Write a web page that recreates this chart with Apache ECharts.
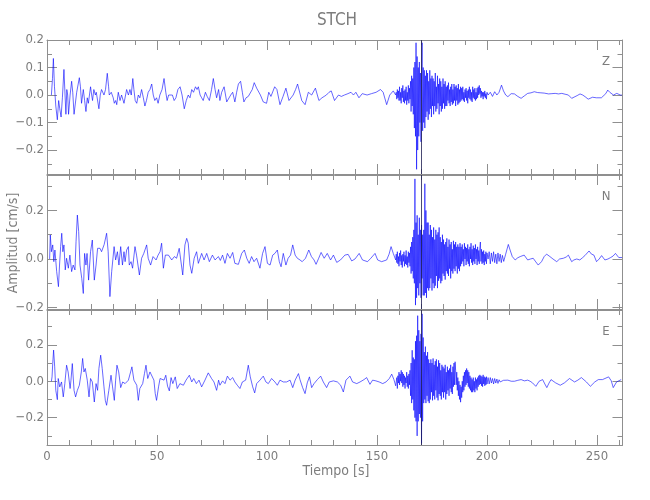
<!DOCTYPE html>
<html><head><meta charset="utf-8">
<script src="https://cdn.jsdelivr.net/npm/echarts@6/dist/echarts.min.js"></script>
<style>html,body{margin:0;padding:0;background:#fff}#c{width:650px;height:500px}</style>
</head><body><div id="c"></div>
<script>
// ---------------- data (cm/s vs s) ----------------
const zQuiet = [[2.0,0.0],[2.5,0.06],[2.9,0.133],[3.4,0.03],[4.0,-0.04],[4.7,-0.09],[5.3,-0.02],[5.8,-0.05],[6.4,-0.08],[7.0,-0.01],[7.7,0.093],[8.2,0.0],[8.6,-0.07],[9.0,0.02],[9.4,0.0],[9.8,-0.07],[10.5,0.0],[11.2,0.05],[11.7,0.01],[12.3,-0.07],[13.5,0.01],[14.7,0.063],[15.2,0.03],[15.7,-0.03],[16.5,0.02],[17.1,-0.02],[17.7,-0.06],[18.3,-0.01],[18.8,-0.03],[19.8,0.03],[20.3,0.0],[20.7,-0.02],[21.3,0.02],[22.0,0.0],[22.4,0.01],[23.6,-0.05],[24.2,0.0],[24.8,0.02],[25.9,0.0],[26.6,0.02],[27.4,0.079],[28.0,0.03],[28.3,0.0],[29.2,0.01],[30.1,-0.01],[30.6,-0.03],[31.2,-0.02],[31.7,-0.035],[32.4,0.01],[33.2,-0.02],[33.9,0.0],[35.0,-0.03],[36.2,0.02],[37.0,0.0],[37.7,0.02],[38.3,0.0],[39.0,0.06],[39.5,0.02],[40.1,-0.02],[40.8,-0.03],[41.5,0.0],[42.2,-0.01],[43.0,0.02],[43.8,-0.01],[44.5,-0.04],[45.2,-0.02],[46.0,0.01],[46.8,0.02],[47.6,0.04],[48.3,0.0],[49.0,-0.02],[49.8,-0.01],[50.5,-0.03],[51.3,0.0],[52.3,0.02],[53.2,0.06],[54.0,0.01],[54.6,-0.02],[55.3,0.0],[56.2,-0.005],[57.0,0.0],[57.8,-0.02],[58.6,-0.01],[59.5,0.02],[60.5,0.03],[61.4,0.0],[62.4,-0.05],[63.3,-0.02],[64.2,0.0],[65.0,-0.01],[65.8,0.02],[66.6,0.01],[67.5,0.03],[68.2,0.02],[68.8,0.03],[69.6,0.0],[70.3,-0.01],[71.0,-0.02],[72.0,0.01],[72.8,-0.005],[73.8,-0.02],[74.8,0.02],[75.6,0.06],[76.4,0.02],[77.1,-0.01],[78.0,0.02],[78.6,-0.02],[79.4,0.01],[80.5,0.03],[81.7,-0.025],[82.6,-0.02],[83.5,0.0],[84.4,0.01],[85.4,-0.025],[86.2,0.01],[87.0,0.04],[88.0,0.05],[88.8,0.01],[89.5,-0.025],[90.5,-0.01],[91.5,-0.005],[92.3,-0.01],[93.3,0.02],[94.2,0.045],[95.3,0.025],[96.0,0.03],[97.0,0.0],[98.3,-0.025],[99.8,-0.03],[100.8,0.01],[101.8,-0.005],[103.5,0.03],[104.5,0.02],[105.9,-0.035],[107.3,-0.005],[108.6,0.025],[110.0,-0.02],[111.9,0.0],[113.0,0.02],[113.9,0.04],[115.8,-0.02],[117.3,-0.035],[118.8,0.01],[120.3,0.0],[122.0,0.025],[123.6,-0.02],[125.0,-0.01],[126.0,-0.005],[127.0,0.0],[128.2,0.01],[129.2,0.015],[130.7,-0.02],[132.5,0.0],[133.8,-0.005],[135.2,0.0],[136.8,0.005],[138.2,0.01],[139.3,0.0],[140.4,0.01],[141.8,-0.01],[143.3,0.005],[145.5,0.0],[147.5,0.005],[149.6,0.01],[151.6,0.02],[152.8,0.01],[154.4,-0.035],[155.8,0.0],[157.4,0.015],[158.5,0.0]];
const zBurst = [0.01,-0.015,0.02,-0.01,0.015,-0.02,
 0.03,-0.02,0.01,-0.03,0.025,-0.01,0.035,-0.025,0.015,-0.03,0.02,-0.02,0.03,-0.035,0.01,-0.02,0.035,-0.03,0.025,-0.015,
 0.05,-0.06,0.07,-0.04,0.06,-0.07, 0.1,-0.12,0.12,-0.15, 0.19,-0.27,
 0.14,-0.2,0.1,-0.15,0.12,-0.1,0.08,-0.17, 0.06,0.19,-0.13, 0.1,-0.1,0.09,-0.12,0.07,
 -0.08,0.09,-0.06,0.08,-0.09,0.05,-0.07,0.09,-0.05,0.06,-0.08,0.07,-0.04,0.06,
 -0.07,0.05,-0.04,0.08,-0.06,0.03,-0.05,0.07,-0.03,0.04,-0.07,0.06,-0.04,0.05,-0.06,0.03,-0.05,0.06,-0.03,0.04,-0.05,0.05,-0.04,0.03,
 -0.04,0.035,-0.02,0.045,-0.03,0.02,-0.04,0.03,-0.025,0.04,-0.035,0.02,-0.03,0.04,-0.02,0.03,-0.04,0.035,-0.02,0.025,-0.035,0.04,-0.03,0.02,-0.025,0.03,
 -0.02,0.025,-0.015,0.03,-0.02,0.01,-0.025,0.02,-0.01,0.025,-0.02,0.015,-0.03,0.02,-0.01,0.03,-0.015,0.02,-0.02,0.01,-0.025,0.03,-0.01,0.02,-0.015,0.025,-0.02,0.01,-0.015,0.025,-0.01,0.03,0.0,0.035,0.005,0.025,
 -0.01,0.015,-0.005,0.01,-0.015,0.01,-0.005,0.015,-0.01,0.005,-0.015,0.01];
const zTail = [[200.5,0.0],[201.5,0.01],[202.5,-0.005],[203.5,0.012],[204.5,0.0],[205.5,0.01],[206.6,0.036],[207.5,0.015],[208.5,0.0],[209.5,-0.006],[211,0.005],[212.5,0.004],[214,-0.005],[215.5,-0.012],[217,-0.003],[218.5,0.006],[220,0.008],[221.5,0.012],[223,0.009],[224.5,0.008],[226,0.007],[228,0.004],[229.5,0.005],[231,0.006],[232.5,0.004],[234,0.006],[235.5,0.003],[237,0.0],[238.5,-0.012],[240,-0.006],[241,-0.002],[242.3,0.004],[243.5,0.0],[244.6,-0.006],[246,-0.015],[246.9,-0.02],[248,-0.008],[248.8,-0.005],[249.7,-0.01],[250.6,-0.012],[252,-0.01],[252.9,-0.01],[254,0.005],[254.9,0.018],[255.8,0.01],[256.7,0.006],[257.5,0.0],[258.2,-0.002],[259,0.006],[259.8,0.009],[260.6,0.0],[261.3,0.0]];

const nQuiet = [[1.2,0.0],[1.5,0.099],[2.0,0.03],[2.6,0.058],[3.1,-0.011],[3.6,0.037],[4.4,-0.052],[5.2,-0.114],[5.7,-0.025],[6.2,0.051],[6.7,0.106],[7.2,0.03],[7.7,0.058],[8.3,-0.045],[8.9,0.003],[9.7,-0.038],[10.4,0.016],[11.2,-0.052],[11.9,-0.025],[12.7,-0.045],[13.2,0.071],[13.8,0.181],[14.4,0.113],[15.0,-0.025],[15.8,-0.08],[16.5,-0.142],[17.1,0.023],[17.7,-0.025],[18.2,0.023],[18.9,-0.087],[19.8,0.03],[20.6,0.078],[21.5,-0.087],[22.3,-0.025],[23.0,0.044],[24.1,0.044],[24.8,0.03],[26.0,0.06],[27.1,0.106],[27.8,0.03],[28.6,-0.155],[29.4,-0.052],[30.5,0.051],[31.2,-0.004],[32.0,0.03],[32.7,-0.025],[33.5,0.051],[34.3,-0.025],[35.0,0.03],[35.5,-0.011],[36.2,0.037],[37.0,0.051],[37.4,-0.025],[38.2,-0.011],[38.9,-0.038],[40.0,0.051],[40.7,0.016],[42.0,-0.066],[43.0,0.003],[44.0,0.023],[45.3,0.058],[46.0,0.003],[47.1,-0.025],[48.2,0.01],[49.6,-0.004],[50.5,0.016],[51.4,0.03],[52.1,0.065],[52.9,-0.038],[53.8,0.016],[55.2,0.016],[56.7,-0.004],[57.9,0.01],[58.9,0.003],[60.1,0.044],[61.7,-0.066],[62.7,0.058],[63.5,0.085],[64.2,0.065],[65.0,-0.025],[65.8,-0.059],[66.9,0.003],[68.0,0.03],[68.8,-0.018],[70.3,0.023],[71.4,-0.004],[72.6,0.023],[73.8,-0.011],[75.2,0.016],[76.4,-0.004],[77.9,0.01],[78.8,-0.006],[79.8,0.016],[80.9,-0.018],[82.0,0.023],[83.2,0.003],[84.4,0.027],[85.4,-0.018],[87.0,-0.022],[88.5,0.023],[89.7,0.037],[90.8,0.003],[91.9,-0.018],[93.0,0.01],[94.1,-0.011],[95.3,0.003],[96.8,-0.038],[98.0,0.023],[99.1,0.051],[100.2,-0.018],[101.4,-0.025],[102.6,0.016],[103.6,0.023],[104.7,0.037],[105.6,-0.011],[106.4,-0.032],[107.4,0.023],[108.6,-0.025],[109.6,0.003],[110.7,0.016],[111.7,0.058],[112.8,0.016],[113.8,0.003],[115.0,-0.004],[116.0,-0.011],[117.5,0.003],[119.0,0.037],[120.2,0.01],[121.4,-0.004],[122.3,-0.022],[123.5,0.003],[124.6,0.027],[126.0,0.003],[127.4,0.023],[128.9,-0.004],[130.2,0.016],[131.7,-0.014],[133.4,-0.004],[135.4,0.016],[136.9,0.019],[138.5,-0.008],[140.0,0.0],[141.9,0.023],[143.4,-0.004],[145.7,-0.011],[147.2,0.003],[149.1,0.023],[150.3,-0.004],[152.1,-0.011],[154.4,-0.004],[155.5,0.02],[156.4,0.051],[157.4,0.023],[158.5,-0.004]];
const nBurst = [0.02,-0.015,0.03,-0.02,0.01,-0.03,0.025,-0.01,0.035,-0.025,0.015,-0.035,0.02,-0.01,0.03,-0.03,0.015,-0.02,0.035,-0.025,0.01,-0.035,0.03,-0.015,0.025,-0.03,
 0.05,-0.06,0.07,-0.05,0.09,-0.08,0.12,-0.1, 0.33,-0.19,
 0.15,-0.16,0.18,-0.12,0.1,-0.15,0.17,-0.1,0.12,-0.16,0.14,-0.08,0.1,-0.15,
 0.12,-0.15,0.31,-0.14, 0.2,-0.16,0.15,-0.12,
 0.15,-0.13,0.1,-0.12,0.14,-0.08,0.12,-0.13,0.09,-0.1,0.13,-0.12,0.08,-0.11,0.12,-0.07,0.1,-0.12,0.11,-0.09,0.13,-0.08,0.09,-0.1,0.07,-0.09,0.1,-0.06,
 0.08,-0.07,0.06,-0.085,0.07,-0.05,0.085,-0.06,0.05,-0.07,0.08,-0.04,0.06,-0.08,0.07,-0.05,0.04,-0.06,0.075,-0.04,0.06,-0.05,0.07,-0.03,0.05,-0.06,0.06,-0.04,0.05,-0.05,0.065,-0.03,
 0.05,-0.02,0.06,-0.01,0.04,-0.03,0.065,0.0,0.05,-0.025,0.045,-0.01,0.06,-0.02,0.04,-0.03,0.05,0.0,0.065,-0.015,0.04,-0.025,0.055,-0.01,0.045,-0.02,0.06,0.0,0.04,-0.025,0.05,-0.01,0.035,-0.02,0.045,0.07,
 -0.01,0.04,-0.02,0.03,-0.015,0.035,-0.025,0.02,-0.01,0.03,-0.02,0.025];
const nTail = [[200.5,0.0],[201,0.03],[201.5,-0.02],[202,0.025],[202.5,-0.01],[203,0.03],[203.5,-0.015],[204,0.02],[204.5,-0.02],[205,0.025],[205.5,-0.01],[206,0.02],[206.5,-0.015],[207,0.015],[207.6,-0.01],[208.5,0.02],[209.7,0.06],[210.5,0.037],[211.5,0.01],[212.8,-0.004],[214,0.005],[215.1,0.01],[216.9,0.016],[218.5,-0.004],[219.8,0.0],[221,0.003],[222.2,-0.012],[223.3,-0.025],[224.8,-0.011],[226,0.01],[227.1,0.02],[228.6,0.01],[230,0.0],[231.7,-0.011],[233,0.0],[234.7,0.003],[236,0.008],[237,0.016],[238.5,-0.011],[239.5,-0.004],[240.8,0.0],[242.2,-0.004],[243.4,0.005],[244.5,0.014],[246.4,0.033],[247.5,0.02],[248.6,0.016],[249.8,-0.011],[251,0.0],[252.1,0.014],[253.6,-0.004],[255,0.0],[256.2,0.006],[257.3,0.012],[258.4,0.023],[259.9,0.006],[261.4,0.006]];

const eQuiet = [[2.0,0.0],[2.3,0.024],[2.6,0.097],[3.0,0.171],[3.5,0.079],[4.0,-0.05],[4.7,-0.101],[5.1,0.015],[5.8,-0.031],[6.6,-0.004],[7.4,-0.086],[8.1,-0.013],[8.9,0.088],[9.6,0.051],[10.5,-0.04],[10.9,0.006],[11.5,0.097],[12.3,-0.05],[13.0,-0.086],[13.8,-0.05],[14.7,-0.022],[15.6,0.051],[16.2,0.125],[16.8,0.051],[17.4,0.07],[18.3,0.006],[19.1,-0.086],[19.8,0.015],[20.6,-0.004],[21.5,-0.114],[22.3,-0.013],[23.0,-0.05],[23.6,0.07],[24.4,0.143],[25.1,0.07],[25.9,-0.031],[26.5,-0.105],[27.1,-0.132],[28.1,-0.05],[29.1,0.033],[29.8,-0.031],[30.6,-0.105],[31.2,0.006],[31.8,0.088],[32.6,0.051],[33.5,-0.035],[34.4,-0.004],[35.5,-0.013],[37.0,0.006],[38.0,0.051],[38.6,0.079],[39.5,0.006],[40.8,-0.022],[41.5,-0.105],[42.2,-0.04],[43.5,-0.013],[44.3,0.042],[45.0,0.088],[45.8,0.015],[46.8,0.051],[47.7,0.042],[48.6,0.006],[49.2,-0.068],[49.8,-0.105],[50.7,-0.031],[51.4,0.015],[52.3,0.024],[53.2,0.006],[54.0,0.033],[54.8,-0.027],[55.6,-0.053],[56.4,0.02],[57.2,-0.013],[58.3,0.024],[59.2,-0.04],[60.4,-0.013],[62.0,-0.022],[63.2,0.006],[64.7,0.033],[65.8,-0.004],[66.7,0.015],[67.9,-0.013],[69.1,0.006],[70.3,-0.031],[71.8,0.006],[73.3,0.046],[74.8,0.015],[75.9,-0.004],[77.1,-0.05],[78.0,0.006],[78.6,-0.022],[79.8,0.002],[80.9,-0.013],[82.0,0.028],[83.2,0.006],[84.4,0.02],[85.4,-0.004],[86.5,-0.022],[87.7,-0.04],[88.8,-0.004],[90.3,0.006],[91.5,0.088],[92.4,0.024],[93.5,-0.031],[94.4,-0.064],[95.3,-0.013],[96.8,0.006],[98.3,0.028],[99.5,-0.004],[100.6,-0.013],[102.1,0.015],[103.6,-0.004],[104.7,-0.022],[105.9,0.006],[107.4,-0.004],[108.9,-0.004],[110.5,0.006],[111.7,-0.035],[112.8,0.006],[114.3,0.042],[115.0,0.009],[116.2,-0.035],[117.3,-0.068],[118.3,-0.009],[119.3,0.024],[120.3,-0.035],[121.4,-0.013],[122.9,0.009],[124.4,0.028],[125.6,-0.004],[127.1,-0.035],[128.3,-0.004],[130.2,0.002],[132.0,-0.004],[133.5,-0.022],[134.7,-0.059],[135.9,0.006],[137.7,0.028],[138.9,-0.004],[140.8,-0.013],[142.3,-0.004],[144.1,0.009],[145.3,0.02],[146.8,-0.017],[148.0,0.006],[149.5,0.002],[151.0,-0.004],[152.6,-0.013],[154.1,-0.004],[155.6,0.015],[156.7,0.039],[157.7,0.009],[158.5,-0.025]];
const eBurst = [-0.03,0.02,-0.04,0.03,-0.01,0.05,-0.02,0.04,0.0,0.06,-0.01,0.05,-0.03,0.04,-0.02,0.03,-0.04,0.02,-0.01,0.05,-0.03,0.03,-0.04,0.04,-0.02,0.06,
 -0.08,0.1,-0.12,0.17,-0.1,0.13,-0.16,0.12,-0.2,0.22,
 -0.22,0.25,-0.3,0.36,-0.22,0.28,
 -0.18,0.22,-0.2,0.26,-0.34,0.37,-0.22,0.24,
 -0.12,0.16,-0.1,0.19,-0.12,0.14,-0.08,0.16,-0.11,0.12,-0.12,0.1,
 -0.1,0.12,-0.06,0.1,-0.105,0.125,-0.08,0.09,-0.1,0.11,-0.05,0.12,-0.09,0.08,-0.105,0.115,-0.07,0.1,-0.08,0.06,-0.1,0.09,-0.06,0.08,
 -0.09,0.07,-0.06,0.09,-0.1,0.05,-0.07,0.08,-0.05,0.06,-0.08,0.07,-0.04,0.09,-0.06,0.05,-0.07,0.08,-0.03,0.1,-0.02,0.107,
 0.06,-0.02,0.05,-0.05,0.02,-0.08,0.0,-0.1,-0.02,-0.115,-0.03,-0.09,
 0.0,-0.06,0.03,-0.05,0.05,-0.03,0.06,-0.02,0.07,-0.01,0.06,-0.03,0.05,-0.04,0.03,-0.05,0.02,-0.06,
 0.01,-0.06,0.02,-0.05,0.0,-0.06,0.02,-0.04,0.01,-0.05,0.02,-0.03,
 0.03,-0.02,0.035,-0.015,0.03,-0.025,0.025,-0.03,0.035,-0.015,0.025,-0.025,0.02,-0.02,0.025,-0.015];
const eTail = [[200.5,0.02],[201,-0.015],[201.5,0.02],[202,-0.01],[202.5,0.015],[203,-0.015],[203.5,0.015],[204,-0.01],[204.5,0.012],[205,-0.012],[205.5,0.008],[206,-0.004],[207.5,0.005],[209.5,0.006],[211,0.0],[212.5,0.0],[214,0.005],[215.5,0.009],[217,0.002],[218.5,0.006],[219.6,0.0],[220.7,-0.009],[222.2,-0.028],[223.7,0.0],[225.3,0.009],[226.3,-0.015],[227.2,-0.035],[228.2,-0.01],[229.1,0.009],[231.2,-0.009],[233.3,-0.022],[235.2,-0.009],[237.5,0.015],[239.8,-0.004],[241.3,0.006],[242.9,0.02],[245.2,-0.004],[247.0,-0.028],[249,-0.004],[250.6,0.009],[252.5,0.009],[255.3,0.024],[256.5,0.002],[257.4,-0.035],[258.9,-0.004],[261,0.009]];

const burstStart = 158.75, burstStep = 0.25;
const markTime = 170;
const panelNames = ['Z', 'N', 'E'];
const xMajor = [0, 50, 100, 150, 200, 250];
const xMinor = [10,20,30,40,60,70,80,90,110,120,130,140,160,170,180,190,210,220,230,240,260];
const yRanges = [[-0.287, 0.2], [-0.206, 0.346], [-0.35, 0.391]];
const yMajor = [[-0.2,-0.1,0,0.1,0.2], [-0.2,0,0.2], [-0.2,0,0.2]];
const yMinor = [[-0.25,-0.15,-0.05,0.05,0.15], [-0.1,0.1,0.3], [-0.3,-0.1,0.1,0.3]];
const xMax = 261.6;

// ---------------- chart ----------------
const FONT = '"Liberation Sans Narrow","DejaVu Sans Condensed","Roboto Condensed","Liberation Sans",sans-serif';
const AX = '#8f8f8f', TX = '#7d7d7d';
const traces = [[zQuiet, zBurst, zTail], [nQuiet, nBurst, nTail], [eQuiet, eBurst, eTail]];
const gridBoxes = [[40, 134], [175, 134], [310, 135]];
const grids = gridBoxes.map(g => ({ left: 47, width: 575.5, top: g[0], height: g[1] }));
const fmtY = v => (v < 0 ? '\u2212' : '') + Math.abs(v).toFixed(1);
const xAxes = [], yAxes = [], series = [];
for (let p = 0; p < 3; p++) {
  const mkX = (pos, vals, len, line, lab) => ({
    type: 'value', gridIndex: p, position: pos, min: 0, max: xMax,
    axisLine: { show: line, onZero: false, lineStyle: { color: AX, width: 1 } },
    axisTick: { show: true, inside: true, length: len, customValues: vals, lineStyle: { color: AX, width: 1 } },
    axisLabel: { show: lab, customValues: xMajor, margin: 5, color: TX, fontFamily: FONT, fontSize: 13 },
    splitLine: { show: false }, minorTick: { show: false }
  });
  const mkY = (pos, vals, len, line, lab) => ({
    type: 'value', gridIndex: p, position: pos, min: yRanges[p][0], max: yRanges[p][1],
    axisLine: { show: line, onZero: false, lineStyle: { color: AX, width: 1 } },
    axisTick: { show: true, inside: true, length: len, customValues: vals, lineStyle: { color: AX, width: 1 } },
    axisLabel: { show: lab, customValues: yMajor[p], formatter: fmtY, margin: 3, color: TX, fontFamily: FONT, fontSize: 13 },
    splitLine: { show: false }, minorTick: { show: false }
  });
  const xb = xAxes.length, yb = yAxes.length;
  xAxes.push(mkX('bottom', xMajor, 10, true, p === 2));
  xAxes.push(mkX('bottom', xMinor, 5, false, false));
  xAxes.push(mkX('top', xMajor, 10, true, false));
  xAxes.push(mkX('top', xMinor, 5, false, false));
  yAxes.push(mkY('left', yMajor[p], 10, true, true));
  yAxes.push(mkY('left', yMinor[p], 5, false, false));
  yAxes.push(mkY('right', yMajor[p], 10, true, false));
  yAxes.push(mkY('right', yMinor[p], 5, false, false));
  const [q, b, t] = traces[p];
  const data = q.concat(b.map((v, i) => [burstStart + i * burstStep, v]), t);
  series.push({
    type: 'line', xAxisIndex: xb, yAxisIndex: yb, data: data,
    showSymbol: false, symbol: 'none', animation: false, silent: true,
    lineStyle: { color: '#0000ff', width: 0.6 },
    markLine: { silent: true, symbol: 'none', animation: false, label: { show: false },
      lineStyle: { color: '#1c1c50', width: 0.8, type: 'solid' }, data: [{ xAxis: markTime }] }
  });
}
const graphics = [
  { type: 'text', x: 337, y: 21, style: { text: 'STCH', fill: TX, font: '17px ' + FONT, textAlign: 'center', textVerticalAlign: 'middle' } },
  { type: 'text', x: 336, y: 471, style: { text: 'Tiempo [s]', fill: TX, font: '14px ' + FONT, textAlign: 'center', textVerticalAlign: 'middle' } },
  { type: 'text', x: 13, y: 243, rotation: Math.PI / 2, style: { text: 'Amplitud [cm/s]', fill: TX, font: '14px ' + FONT, textAlign: 'center', textVerticalAlign: 'middle' } }
];
const labelY = [62, 197, 332];
panelNames.forEach((n, i) => graphics.push({ type: 'text', x: 606, y: labelY[i], style: { text: n, fill: TX, font: '13px ' + FONT, textAlign: 'center', textVerticalAlign: 'middle' } }));

const chart = echarts.init(document.getElementById('c'), null, { renderer: 'canvas' });
chart.setOption({
  animation: false, backgroundColor: '#ffffff',
  grid: grids, xAxis: xAxes, yAxis: yAxes, series: series, graphic: graphics
});
</script></body></html>
